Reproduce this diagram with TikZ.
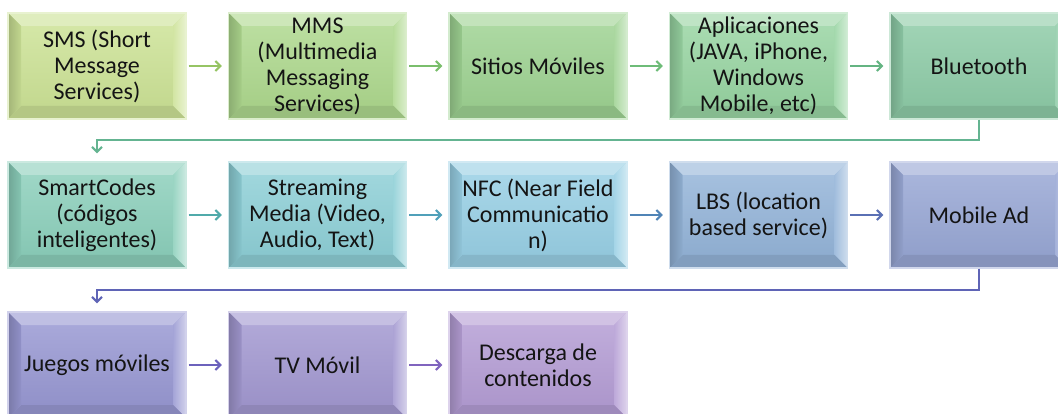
\documentclass[tikz,border=0pt]{standalone}
\usepackage{fontspec}
\setmainfont{Carlito}
\usetikzlibrary{calc,arrows.meta}

% face colours of the stages
\definecolor{c1}{RGB}{204,226,150}
\definecolor{c2}{RGB}{174,216,142}
\definecolor{c3}{RGB}{158,210,146}
\definecolor{c4}{RGB}{152,212,162}
\definecolor{c5}{RGB}{142,203,167}
\definecolor{c6}{RGB}{140,207,187}
\definecolor{c7}{RGB}{142,207,214}
\definecolor{c8}{RGB}{152,207,228}
\definecolor{c9}{RGB}{148,180,216}
\definecolor{c10}{RGB}{152,167,212}
\definecolor{c11}{RGB}{152,152,210}
\definecolor{c12}{RGB}{162,152,208}
\definecolor{c13}{RGB}{180,157,212}
% connector colours
\definecolor{a1}{RGB}{150,196,100}
\definecolor{a2}{RGB}{122,190,108}
\definecolor{a3}{RGB}{110,188,120}
\definecolor{a4}{RGB}{100,180,130}
\definecolor{a5}{RGB}{100,180,145}
\definecolor{a6}{RGB}{80,170,170}
\definecolor{a7}{RGB}{80,160,185}
\definecolor{a8}{RGB}{80,132,182}
\definecolor{a9}{RGB}{90,112,180}
\definecolor{a10}{RGB}{95,100,182}
\definecolor{a11}{RGB}{108,98,188}
\definecolor{a12}{RGB}{128,100,190}
\colorlet{bcol}{c1}

\tikzset{
  stage/.style={
    minimum width=178pt, minimum height=106pt, inner sep=0pt,
    align=center, font=\fontsize{24}{26}\selectfont, text=black!92,
    fill=bcol, draw=bcol!45!white, line width=1.4pt,
    path picture={
      \path (path picture bounding box.south west) coordinate (pSW)
            (path picture bounding box.north east) coordinate (pNE);
      \coordinate (pNW) at (pSW |- pNE);
      \coordinate (pSE) at (pNE |- pSW);
      % face
      \shade[top color=bcol!85!white, bottom color=bcol!96!black]
        ($(pSW)+(13pt,13pt)$) rectangle ($(pNE)+(-13pt,-13pt)$);
      % top bevel
      \fill[bcol!62!white] (pNW) -- (pNE) -- ($(pNE)+(-13pt,-13pt)$)
        -- ($(pNW)+(13pt,-13pt)$) -- cycle;
      % right bevel
      \shade[left color=bcol!88!white, right color=bcol!45!white]
        (pNE) -- (pSE) -- ($(pSE)+(-13pt,13pt)$)
        -- ($(pNE)+(-13pt,-13pt)$) -- cycle;
      % bottom bevel
      \fill[bcol!88!black] (pSE) -- (pSW) -- ($(pSW)+(13pt,13pt)$)
        -- ($(pSE)+(-13pt,13pt)$) -- cycle;
      % left bevel
      \shade[left color=bcol!80!black, right color=bcol!95!black]
        (pSW) -- (pNW) -- ($(pNW)+(13pt,-13pt)$)
        -- ($(pSW)+(13pt,13pt)$) -- cycle;
    }},
  flow/.style={line width=2pt,
    -{Straight Barb[length=5pt,width=10pt,line width=2pt]},
    shorten <=2pt, shorten >=6pt},
  turn/.style={line width=2pt,
    -{Straight Barb[length=5pt,width=10pt,line width=2pt]},
    shorten >=8pt}
}

\newcommand\stagebox[4]{\colorlet{bcol}{#3}\node[stage] (#1) at (#2) {#4};}

\begin{document}
\begin{tikzpicture}[x=1pt,y=-1pt]
\useasboundingbox (0,0) rectangle (1058,414);
\clip (0,0) rectangle (1058,414);

% first row
\stagebox{s1}{97,66}{c1}{SMS (Short\\Message\\Services)}
\stagebox{s2}{317.5,66}{c2}{MMS\\(Multimedia\\Messaging\\Services)}
\stagebox{s3}{538,66}{c3}{Sitios Móviles}
\stagebox{s4}{758.5,66}{c4}{Aplicaciones\\(JAVA, iPhone,\\Windows\\Mobile, etc)}
\stagebox{s5}{979,66}{c5}{Bluetooth}
% second row
\stagebox{s6}{97,215}{c6}{SmartCodes\\(códigos\\inteligentes)}
\stagebox{s7}{317.5,215}{c7}{Streaming\\Media (Video,\\Audio, Text)}
\stagebox{s8}{538,215}{c8}{NFC (Near Field\\Communicatio\\n)}
\stagebox{s9}{758.5,215}{c9}{LBS (location\\based service)}
\stagebox{s10}{979,215}{c10}{Mobile Ad}
% third row
\stagebox{s11}{97,365}{c11}{Juegos móviles}
\stagebox{s12}{317.5,365}{c12}{TV Móvil}
\stagebox{s13}{538,365}{c13}{Descarga de\\contenidos}

% connectors along the rows
\draw[flow, a1] (s1) -- (s2);
\draw[flow, a2] (s2) -- (s3);
\draw[flow, a3] (s3) -- (s4);
\draw[flow, a4] (s4) -- (s5);
\draw[flow, a6] (s6) -- (s7);
\draw[flow, a7] (s7) -- (s8);
\draw[flow, a8] (s8) -- (s9);
\draw[flow, a9] (s9) -- (s10);
\draw[flow, a11] (s11) -- (s12);
\draw[flow, a12] (s12) -- (s13);

% connectors between the rows
\draw[turn, a5] (s5.south) |- ($(s5.south)!.5!(s6.north)$) -| (s6.north);
\draw[turn, a10] (s10.south) |- ($(s10.south)!.5!(s11.north)$) -| (s11.north);
\end{tikzpicture}
\end{document}
